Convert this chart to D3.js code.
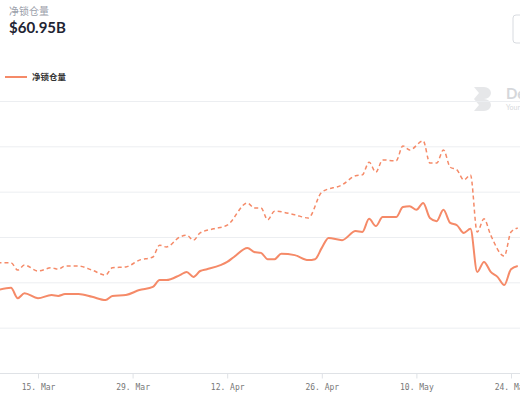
<!DOCTYPE html>
<html>
<head>
<meta charset="utf-8">
<script src="https://cdn.jsdelivr.net/npm/d3@7"></script>
<style>
body { margin: 0; background: #fff; font-family: Lato, "Noto Sans CJK SC", sans-serif; }
</style>
</head>
<body>
<div id="chart"></div>
<script>
// net locked value (solid)
var lockedDates = ['03-09','03-11','03-12','03-13','03-15','03-17','03-18','03-19','03-21','03-23','03-25','03-26','03-28','03-30',
	'04-01','04-02','04-03','04-05','04-06','04-07','04-08','04-09','04-11','04-12','04-13','04-15','04-16','04-17','04-18','04-19',
	'04-20','04-22','04-24','04-25','04-26','04-27','04-29','05-01','05-02','05-03','05-04','05-05','05-07','05-08','05-09','05-10',
	'05-11','05-12','05-13','05-14','05-15','05-16','05-17','05-18','05-19','05-20','05-21','05-22','05-23','05-24','05-25'];
var lockedValues = [18.3,18.8,16.5,17.6,16.5,17.2,17.0,17.4,17.4,16.8,16.1,17.0,17.2,18.3,
	19.0,20.5,20.5,21.6,22.3,21.2,22.5,22.9,23.8,24.5,25.6,27.6,26.7,26.5,25.1,25.1,
	26.3,26.0,24.9,25.1,27.6,29.8,29.3,31.3,31.1,34.0,32.4,34.4,34.4,36.6,36.8,36.0,
	37.5,34.2,33.5,36.0,33.1,32.6,30.9,31.8,22.3,24.5,22.3,21.2,19.4,22.9,23.6];

// total value (dashed)
var totalDates = ['03-09','03-11','03-12','03-13','03-15','03-17','03-18','03-19','03-21','03-23','03-25','03-26','03-28','03-30',
	'04-01','04-02','04-03','04-05','04-06','04-07','04-08','04-10','04-12','04-15','04-16','04-17','04-18','04-19','04-22','04-24',
	'04-26','04-29','05-01','05-02','05-03','05-04','05-05','05-07','05-08','05-09','05-11','05-12','05-13','05-14','05-15','05-16',
	'05-17','05-18','05-19','05-20','05-21','05-23','05-24','05-25'];
var totalValues = [24.3,24.3,22.7,23.8,22.5,23.2,22.9,23.6,23.6,22.7,21.6,23.2,23.4,24.9,
	25.6,28.2,27.8,30.0,30.4,29.3,30.9,31.8,32.6,37.5,36.4,36.4,33.8,35.7,34.9,34.2,
	39.9,41.5,43.5,43.7,46.5,44.3,47.0,46.8,50.1,49.2,51.2,46.3,46.3,49.2,45.4,44.8,
	42.6,43.7,31.1,34.0,30.4,25.8,31.1,32.0];

var tickDates = ['03-15','03-29','04-12','04-26','05-10','05-24'];
var tickLabels = ['15. Mar','29. Mar','12. Apr','26. Apr','10. May','24. May'];
var gridValues = [0,10,20,30,40,50,60];

var width = 520, height = 400;
var parse = function(s){ return d3.utcParse('%Y-%m-%d')('2021-' + s); };
var color = '#f58a68';

var svg = d3.select('#chart').append('svg')
	.attr('width', width)
	.attr('height', height);

// header
svg.append('text').attr('x', 9).attr('y', 15).attr('font-size', 10).attr('fill', '#9aa0aa').text('净锁仓量');
svg.append('text').attr('x', 9).attr('y', 33).attr('font-size', 15).attr('font-weight', 'bold').attr('fill', '#1f2433').text('$60.95B');
svg.append('rect').attr('x', 513).attr('y', 15).attr('width', 20).attr('height', 28).attr('rx', 3)
	.attr('fill', 'none').attr('stroke', '#d8dbe0');

// legend
svg.append('line').attr('x1', 5).attr('x2', 27).attr('y1', 77).attr('y2', 77).attr('stroke', color).attr('stroke-width', 2);
svg.append('text').attr('x', 32).attr('y', 80).attr('font-size', 8.5).attr('font-weight', 'bold').attr('fill', '#333').text('净锁仓量');

var x = d3.scaleUtc()
	.domain([parse('03-15'), parse('05-24')])
	.range([38, 511]);

var y = d3.scaleLinear()
	.domain([0, 60])
	.range([373, 101]);

// watermark
var wm = svg.append('g').attr('opacity', 0.35);
wm.append('path').attr('d', 'M474,87 h10 a7,6 0 0 1 0,12 a7,6 0 0 1 0,12 h-10 l5,-6 l-5,-6 l5,-6 z').attr('fill', '#b8bcc2');
wm.append('text').attr('x', 506).attr('y', 99).attr('font-size', 15).attr('font-weight', 'bold').attr('fill', '#8a9099').text('De');
wm.append('text').attr('x', 506).attr('y', 110).attr('font-size', 7).attr('fill', '#8a9099').text('Your');

// grid
svg.append('g').selectAll('line.grid').data(gridValues).enter().append('line')
	.attr('class', 'grid')
	.attr('x1', 0).attr('x2', width)
	.attr('y1', function(d){ return y(d) + 0.5; })
	.attr('y2', function(d){ return y(d) + 0.5; })
	.attr('stroke', function(d){ return d === 0 ? '#dfe2e6' : '#eceef1'; });

// x axis
var tickValues = tickDates.map(parse);
var xAxis = d3.axisBottom(x)
	.tickValues(tickValues)
	.tickSize(5)
	.tickFormat(function(d, i){ return tickLabels[i]; });

var axisG = svg.append('g')
	.attr('transform', 'translate(0,' + (y(0) + 0.5) + ')')
	.call(xAxis);
axisG.select('.domain').remove();
axisG.selectAll('line').attr('stroke', '#dfe2e6');
axisG.selectAll('text')
	.attr('fill', '#777')
	.attr('font-family', '"DejaVu Sans Mono", monospace')
	.attr('font-size', 8)
	.attr('dy', '1.1em');

var line = d3.line()
	.x(function(d){ return x(d.date); })
	.y(function(d){ return y(d.value); })
	.curve(d3.curveMonotoneX);

var total = totalDates.map(function(d, i){ return {date: parse(d), value: totalValues[i]}; });
var locked = lockedDates.map(function(d, i){ return {date: parse(d), value: lockedValues[i]}; });

svg.append('path').datum(total)
	.attr('d', line)
	.attr('fill', 'none')
	.attr('stroke', color)
	.attr('stroke-width', 1.5)
	.attr('stroke-dasharray', '4,3');

svg.append('path').datum(locked)
	.attr('d', line)
	.attr('fill', 'none')
	.attr('stroke', color)
	.attr('stroke-width', 2);
</script>
</body>
</html>
